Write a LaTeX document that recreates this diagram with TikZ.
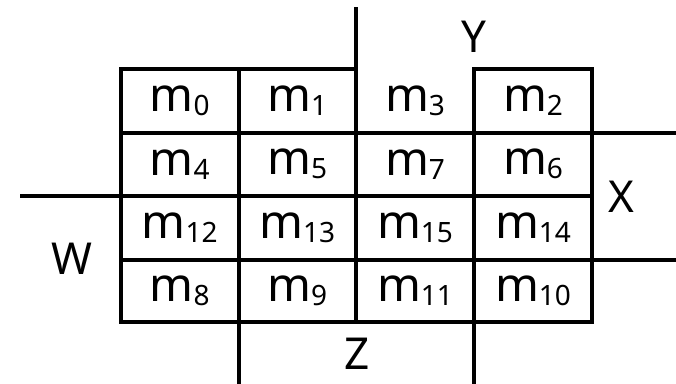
\documentclass[tikz,border=0pt]{standalone}
\usepackage{fontspec}
\setmainfont{Noto Sans}
\newcommand\cellm[1]{m\raisebox{-4pt}{\fontsize{28}{28}\selectfont #1}}
\begin{document}
\begin{tikzpicture}[x=1pt,y=-1pt,
  gl/.style={line width=4pt,line cap=rect},
  cell/.style={font=\fontsize{47}{47}\selectfont,inner sep=0pt},
  lab/.style={font=\fontsize{44}{44}\selectfont,inner sep=0pt}]
\useasboundingbox (0,0) rectangle (676,383);
% cells
\foreach \r/\y in {0/100.75,1/164.25,2/227.75,3/290.75}{
  \foreach \c/\x in {0/179.75,1/297.25,2/415,3/533}{
    \coordinate (p\r\c) at (\x,\y);
  }
}
\node[cell] (m0) at (p00) {\cellm{0}};
\node[cell] (m1) at (p01) {\cellm{1}};
\node[cell] (m3) at (p02) {\cellm{3}};
\node[cell] (m2) at (p03) {\cellm{2}};
\node[cell] (m4) at (p10) {\cellm{4}};
\node[cell] (m5) at (p11) {\cellm{5}};
\node[cell] (m7) at (p12) {\cellm{7}};
\node[cell] (m6) at (p13) {\cellm{6}};
\node[cell] (m12) at (p20) {\cellm{12}};
\node[cell] (m13) at (p21) {\cellm{13}};
\node[cell] (m15) at (p22) {\cellm{15}};
\node[cell] (m14) at (p23) {\cellm{14}};
\node[cell] (m8) at (p30) {\cellm{8}};
\node[cell] (m9) at (p31) {\cellm{9}};
\node[cell] (m11) at (p32) {\cellm{11}};
\node[cell] (m10) at (p33) {\cellm{10}};
% labels
\node[lab] (ly) at (474,37) {Y};
\node[lab] (lx) at (621,197) {X};
\node[lab] (lw) at (72,259) {W};
\node[lab] (lz) at (357,354) {Z};
% grid coordinates
\coordinate (a0) at (121,69);
\coordinate (a1) at (238.5,69);
\coordinate (a2) at (356,69);
\coordinate (a3) at (474,69);
\coordinate (a4) at (592,69);
\coordinate (b0) at (121,322);
\coordinate (b1) at (238.5,322);
\coordinate (b2) at (356,322);
\coordinate (b3) at (474,322);
\coordinate (b4) at (592,322);
\coordinate (ytop) at (356,9);
\coordinate (zl) at (238.5,383);
\coordinate (zr) at (474,383);
\coordinate (wl) at (22,196);
\coordinate (x1l) at (121,132.5);
\coordinate (x1r) at (676,132.5);
\coordinate (x3l) at (121,259.5);
\coordinate (x3r) at (676,259.5);
% outer frame
\draw[gl] (a0) -- (b0) -- (b4) -- (a4) -- (a3);
\draw[gl] (a0) -- (a2);
% verticals
\draw[gl] (a1) -- (zl);
\draw[gl] (ytop) -- (b2);
\draw[gl] (a3) -- (zr);
% horizontals
\draw[gl] (x1l) -- (x1r);
\draw[gl] (wl) -- (b4 |- wl);
\draw[gl] (x3l) -- (x3r);
\end{tikzpicture}
\end{document}
